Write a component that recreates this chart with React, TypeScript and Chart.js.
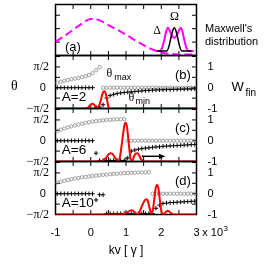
import React, { useEffect, useRef } from "react";
import { Chart, registerables } from "chart.js";

Chart.register(...registerables);

const SANS = '"Liberation Sans", Arial, sans-serif';
const SERIF = '"Liberation Serif", "Times New Roman", serif';

// ---------- data ----------
// kv grid (x 10^3) of the theta_max / theta_min samples
const KV_GRID = [
  -0.95, -0.85, -0.75, -0.65, -0.55, -0.45, -0.35, -0.25, -0.15, -0.05,
  0.05, 0.15, 0.25, 0.35, 0.45, 0.55, 0.65, 0.75, 0.85, 0.95,
  1.05, 1.15, 1.25, 1.35, 1.45, 1.55, 1.65, 1.75, 1.85, 1.95,
  2.05, 2.15, 2.25, 2.35, 2.45, 2.55, 2.65, 2.75, 2.85, 2.95,
];

// (a) Maxwell's distribution (arbitrary units)
const MAXWELL_KV = [-1, -0.75, -0.5, -0.25, 0, 0.25, 0.5, 0.75, 1, 1.25, 1.5, 1.75, 2, 2.25, 2.5, 2.75, 3];
const MAXWELL_F = [1.03, 1.45, 1.92, 2.38, 2.72, 2.62, 2.27, 1.92, 1.55, 1.15, 0.77, 0.45, 0.23, 0.12, 0.08, 0.07, 0.07];

// (a) inset: Delta (double hump, magenta) and Omega (single hump, black)
const DELTA_KV = [1.82, 1.97, 2.03, 2.09, 2.14, 2.19, 2.24, 2.31, 2.37, 2.43, 2.5, 2.55, 2.6, 2.65, 2.71, 2.77, 2.92];
const DELTA_F = [0.34, 0.34, 0.6, 1.2, 1.8, 2.07, 1.85, 1.45, 1.3, 1.45, 1.85, 2.07, 1.8, 1.2, 0.6, 0.34, 0.34];
const OMEGA_KV = [1.88, 2.16, 2.22, 2.28, 2.33, 2.37, 2.41, 2.46, 2.52, 2.58, 2.86];
const OMEGA_F = [0.34, 0.34, 0.7, 1.4, 1.9, 2.07, 1.9, 1.4, 0.7, 0.34, 0.34];

// theta in units of pi/2 ; W_fin in its own units (same scale)
// (b) A = 2
const B_THMAX = [
  0.24, 0.29, 0.33, 0.37, 0.41, 0.44, 0.47, 0.51, 0.55, 0.61,
  0.7, 0.84, 0.99, 0, 0, 0, 0, 0, 0, 0,
  0, 0, 0, 0, 0, 0, 0, 0, 0, 0,
  0, 0, 0, 0, 0, 0, 0, 0, 0, 0,
];
const B_THMIN = [
  0, 0, 0, 0, 0, 0, 0, 0, 0, 0,
  0, -0.93, -0.93, -0.82, -0.5, -0.38, -0.32, -0.28, -0.25, -0.23,
  -0.21, -0.2, -0.18, -0.17, -0.15, -0.14, -0.13, -0.12, -0.11, -0.1,
  -0.1, -0.09, -0.09, -0.08, -0.08, -0.07, -0.07, -0.06, -0.06, -0.05,
];
const B_W_KV = [-1, -0.15, -0.08, -0.02, 0.04, 0.1, 0.16, 0.2, 0.25, 0.3, 0.35, 0.39, 0.43, 0.47, 0.51, 0.56, 3];
const B_W = [-1, -1, -0.96, -0.85, -0.77, -0.82, -0.95, -0.96, -0.8, -0.5, -0.22, -0.17, -0.3, -0.65, -0.95, -1, -1];

// (c) A = 6
const C_THMAX = [
  0.47, 0.53, 0.59, 0.64, 0.69, 0.74, 0.78, 0.82, 0.86, 0.89,
  0.92, 0.94, 0.96, 0.98, 1.0, 1.01, 1.02, 1.03, 1.03, 1.04,
  0, 0, 0, 0, 0, 0, 0, 0, 0, 0,
  0, 0, 0, 0, 0, 0, 0, 0, 0, 0,
];
const C_THMIN = [
  0, 0, 0, 0, 0, 0, 0, 0, 0, 0,
  0, -0.6, -0.95, -0.95, -0.95, -0.95, -0.95, -0.95, -0.95, -0.95,
  -0.83, -0.5, -0.45, -0.41, -0.38, -0.36, -0.34, -0.32, -0.3, -0.29,
  -0.27, -0.26, -0.25, -0.24, -0.23, -0.22, -0.21, -0.2, -0.19, -0.18,
];
const C_W_KV = [-1, 0.27, 0.35, 0.45, 0.52, 0.57, 0.63, 0.7, 0.77, 0.82, 0.87, 0.92, 0.96, 0.99, 1.02, 1.06, 1.1, 1.14, 1.18, 1.23, 1.28, 1.32, 1.37, 1.43, 1.49, 1.6, 3];
const C_W = [-1, -1, -0.95, -0.78, -0.63, -0.6, -0.66, -0.85, -0.98, -0.85, -0.3, 0.35, 0.78, 0.86, 0.75, 0.2, -0.5, -0.92, -0.95, -0.75, -0.62, -0.6, -0.7, -0.9, -0.98, -1, -1];

// (d) A = 10
const D_THMAX = [
  0.54, 0.58, 0.62, 0.66, 0.7, 0.73, 0.76, 0.79, 0.81, 0.83,
  0.85, 0.87, 0.89, 0.91, 0.92, 0.94, 0.95, 0.96, 0.98, 0.99,
  1.0, 1.01, 1.01, 1.02, 1.02, 1.03, 1.03, 0, 0, 0,
  0, 0, 0, 0, 0, 0, 0, 0, 0, 0,
];
const D_THMIN = [
  0, 0, 0, 0, 0, 0, 0, 0, 0, 0,
  0, -0.3, -0.05, -0.05, -0.96, -0.96, -0.96, -0.96, -0.96, -0.96,
  -0.96, -0.96, -0.96, -0.96, -0.96, -0.96, -0.96, -0.96, -0.7, -0.55,
  -0.47, -0.45, -0.43, -0.42, -0.41, -0.4, -0.39, -0.38, -0.37, -0.36,
];
const D_W_KV = [-1, 0.88, 0.96, 1.05, 1.12, 1.16, 1.21, 1.27, 1.32, 1.38, 1.45, 1.52, 1.57, 1.62, 1.67, 1.72, 1.76, 1.8, 1.84, 1.88, 1.92, 1.96, 2.0, 2.05, 2.1, 2.15, 2.19, 2.24, 2.31, 2.38, 3];
const D_W = [-1, -1, -0.97, -0.88, -0.81, -0.79, -0.83, -0.94, -0.97, -0.88, -0.6, -0.35, -0.27, -0.35, -0.7, -0.95, -0.8, -0.3, 0.25, 0.42, 0.25, -0.3, -0.8, -1, -0.93, -0.85, -0.82, -0.88, -0.97, -1, -1];

// tick labels
const Y_TICK_VALUES = [-1, 0, 1];
const Y_LEFT_LABELS = ["\u2212\u03c0/2", "0 ", "\u03c0/2"];
const Y_RIGHT_LABELS = ["-1", "0", "1"];
const X_TICK_VALUES = [-1, 0, 1, 2, 3];
const X_TICK_LABELS = ["-1", "0", "1", "2", "3"];
const X_TITLE = "kv [ \u03b3 ]";

// ---------- helpers ----------
const pts = (xs: number[], ys: number[]) => xs.map((x, i) => ({ x, y: ys[i] }));

type TextItem = {
  t: string;
  x: number;
  y: number;
  px?: boolean;
  font: string;
  align?: CanvasTextAlign;
  base?: CanvasTextBaseline;
};

type Panel = {
  top: number;
  bottom: number;
  yMin: number;
  yMax: number;
  yStep: number;
  yLabels: boolean;
  showX: boolean;
  datasets: any[];
  texts: TextItem[];
  arrow?: { x0: number; x1: number; y: number };
};

function makeFrame(p: Panel) {
  return {
    id: "frame",
    beforeDatasetsDraw(chart: any) {
      const { ctx, chartArea: a, scales } = chart;
      const xs = scales.x;
      const ys = scales.y;
      const L = 4.5;
      ctx.save();
      ctx.strokeStyle = "#000";
      ctx.lineWidth = 1;
      ctx.beginPath();
      for (const t of xs.ticks) {
        if (t.value <= xs.min || t.value >= xs.max) continue;
        const px = xs.getPixelForValue(t.value);
        ctx.moveTo(px, a.top);
        ctx.lineTo(px, a.top + L);
        ctx.moveTo(px, a.bottom);
        ctx.lineTo(px, a.bottom - L);
      }
      for (const t of ys.ticks) {
        if (t.value <= ys.min || t.value >= ys.max) continue;
        const py = ys.getPixelForValue(t.value);
        ctx.moveTo(a.left, py);
        ctx.lineTo(a.left + L, py);
        ctx.moveTo(a.right, py);
        ctx.lineTo(a.right - L, py);
      }
      ctx.stroke();
      ctx.lineWidth = 1.5;
      ctx.strokeRect(a.left, a.top, a.right - a.left, a.bottom - a.top);
      ctx.restore();
    },
    afterDraw(chart: any) {
      const { ctx, scales } = chart;
      const xs = scales.x;
      const ys = scales.y;
      ctx.save();
      ctx.fillStyle = "#000";
      for (const it of p.texts) {
        const x = it.px ? it.x : xs.getPixelForValue(it.x);
        const y = it.px ? it.y : ys.getPixelForValue(it.y);
        ctx.font = it.font;
        ctx.textAlign = it.align || "left";
        ctx.textBaseline = it.base || "alphabetic";
        ctx.fillText(it.t, x, y);
      }
      if (p.arrow) {
        const x0 = xs.getPixelForValue(p.arrow.x0);
        const x1 = xs.getPixelForValue(p.arrow.x1);
        const y = ys.getPixelForValue(p.arrow.y);
        ctx.strokeStyle = "#000";
        ctx.lineWidth = 1.5;
        ctx.beginPath();
        ctx.moveTo(x0, y);
        ctx.lineTo(x1 - 5, y);
        ctx.stroke();
        ctx.beginPath();
        ctx.moveTo(x1, y);
        ctx.lineTo(x1 - 6.5, y - 2.6);
        ctx.lineTo(x1 - 6.5, y + 2.6);
        ctx.closePath();
        ctx.fill();
      }
      ctx.restore();
    },
  };
}

function buildConfig(p: Panel): any {
  const labelFor = (labels: string[]) => (v: number) => {
    const i = Y_TICK_VALUES.indexOf(v);
    return i >= 0 ? labels[i] : "";
  };
  return {
    type: "line",
    data: { datasets: p.datasets },
    options: {
      responsive: false,
      maintainAspectRatio: false,
      animation: false,
      events: [],
      layout: { padding: { top: p.top, bottom: p.showX ? 0 : 264 - p.bottom, left: 0, right: 0 } },
      plugins: { legend: { display: false }, tooltip: { enabled: false } },
      scales: {
        x: {
          type: "linear",
          position: "bottom",
          min: -1,
          max: 3,
          grid: { display: false, drawTicks: false },
          border: { display: false },
          ticks: {
            display: p.showX,
            stepSize: 0.5,
            autoSkip: false,
            maxRotation: 0,
            padding: 12,
            color: "#000",
            font: { family: SANS, size: 11 },
            callback: (v: number) => {
              const i = X_TICK_VALUES.indexOf(v);
              return i >= 0 ? X_TICK_LABELS[i] : "";
            },
          },
          title: {
            display: p.showX,
            text: X_TITLE,
            color: "#000",
            font: { family: SANS, size: 12 },
            padding: { top: 0, bottom: 5.8 },
          },
          afterFit: (s: any) => {
            s.height = p.showX ? 264 - p.bottom : 0;
          },
        },
        y: {
          type: "linear",
          position: "left",
          min: p.yMin,
          max: p.yMax,
          grid: { display: false, drawTicks: false },
          border: { display: false },
          ticks: {
            display: p.yLabels,
            stepSize: p.yStep,
            autoSkip: false,
            includeBounds: false,
            padding: 6.5,
            color: "#000",
            font: (c: any) =>
              c.tick && c.tick.value === 0 ? { family: SANS, size: 11 } : { family: SERIF, size: 12 },
            callback: labelFor(Y_LEFT_LABELS),
          },
          afterFit: (s: any) => {
            s.width = 55.5;
          },
        },
        y2: {
          type: "linear",
          position: "right",
          min: p.yMin,
          max: p.yMax,
          grid: { display: false, drawTicks: false },
          border: { display: false },
          ticks: {
            display: p.yLabels,
            stepSize: p.yStep,
            autoSkip: false,
            includeBounds: false,
            padding: 11,
            color: "#000",
            font: { family: SANS, size: 11 },
            callback: labelFor(Y_RIGHT_LABELS),
          },
          afterFit: (s: any) => {
            s.width = 68.5;
          },
        },
      },
    },
    plugins: [makeFrame(p)],
  };
}

const redLine = (xs: number[], ys: number[]) => ({
  data: pts(xs, ys),
  borderColor: "#ff0000",
  borderWidth: 2,
  pointRadius: 0,
  cubicInterpolationMode: "monotone",
  fill: false,
});
const plusSet = (ys: number[]) => ({
  data: pts(KV_GRID, ys),
  showLine: false,
  pointStyle: "cross",
  pointRadius: 2.2,
  pointBorderWidth: 1,
  pointBorderColor: "#000",
  pointBackgroundColor: "#000",
  borderColor: "#000",
});
const circleSet = (ys: number[]) => ({
  data: pts(KV_GRID, ys),
  showLine: false,
  pointStyle: "circle",
  pointRadius: 1.7,
  pointBorderWidth: 0.8,
  pointBorderColor: "#8a8a8a",
  pointBackgroundColor: "rgba(0,0,0,0)",
  borderColor: "#8a8a8a",
});

const LBL = `13px ${SANS}`;
const ALBL = `13.5px ${SANS}`;

const PANELS: Panel[] = [
  {
    top: 4.5,
    bottom: 55.5,
    yMin: 0,
    yMax: 3.8,
    yStep: 1,
    yLabels: false,
    showX: false,
    datasets: [
      {
        data: pts(OMEGA_KV, OMEGA_F),
        borderColor: "#000",
        borderWidth: 1.5,
        pointRadius: 0,
        cubicInterpolationMode: "monotone",
      },
      {
        data: pts(DELTA_KV, DELTA_F),
        borderColor: "#ff00ff",
        borderWidth: 2,
        pointRadius: 0,
        cubicInterpolationMode: "monotone",
      },
      {
        data: pts(MAXWELL_KV, MAXWELL_F),
        borderColor: "#ff00ff",
        borderWidth: 2,
        borderDash: [8, 4],
        pointRadius: 0,
        cubicInterpolationMode: "monotone",
      },
    ],
    texts: [
      { t: "(a)", x: 65, y: 50.5, px: true, font: LBL },
      { t: "\u0394", x: 157, y: 30.5, px: true, font: `12px ${SERIF}`, align: "center", base: "middle" },
      { t: "\u03a9", x: 174.5, y: 16.5, px: true, font: `12px ${SERIF}`, align: "center", base: "middle" },
      { t: "Maxwell's", x: 205, y: 31.5, px: true, font: `11px ${SANS}` },
      { t: "distribution", x: 205, y: 44.5, px: true, font: `11px ${SANS}` },
    ],
  },
  {
    top: 55.5,
    bottom: 108.5,
    yMin: -1,
    yMax: 1.55,
    yStep: 0.5,
    yLabels: true,
    showX: false,
    datasets: [redLine(B_W_KV, B_W), plusSet(B_THMIN), circleSet(B_THMAX)],
    texts: [
      { t: "(b)", x: 2.39, y: 0.58, font: LBL, base: "middle" },
      { t: "A=2", x: -0.82, y: -0.47, font: ALBL, base: "middle" },
      { t: "\u03b8", x: 0.45, y: 0.68, font: `12px ${SERIF}`, base: "middle" },
      { t: "max", x: 0.67, y: 0.37, font: `9px ${SANS}` },
      { t: "\u03b8", x: 1.07, y: -0.51, font: `12px ${SERIF}`, base: "middle" },
      { t: "min", x: 1.27, y: -0.78, font: `9px ${SANS}` },
      { t: "\u03b8", x: 11, y: 90, px: true, font: `14px ${SERIF}` },
      { t: "W", x: 231.5, y: 91, px: true, font: `13px ${SANS}` },
      { t: "fin", x: 245.5, y: 95.5, px: true, font: `10px ${SANS}` },
    ],
  },
  {
    top: 108.5,
    bottom: 161.5,
    yMin: -1,
    yMax: 1.55,
    yStep: 0.5,
    yLabels: true,
    showX: false,
    datasets: [redLine(C_W_KV, C_W), plusSet(C_THMIN), circleSet(C_THMAX)],
    texts: [
      { t: "(c)", x: 2.39, y: 0.58, font: LBL, base: "middle" },
      { t: "A=6", x: -0.82, y: -0.47, font: ALBL, base: "middle" },
    ],
    arrow: { x0: 1.45, x1: 2.12, y: -0.75 },
  },
  {
    top: 161.5,
    bottom: 214.5,
    yMin: -1,
    yMax: 1.55,
    yStep: 0.5,
    yLabels: true,
    showX: true,
    datasets: [redLine(D_W_KV, D_W), plusSet(D_THMIN), circleSet(D_THMAX)],
    texts: [
      { t: "(d)", x: 2.39, y: 0.58, font: LBL, base: "middle" },
      { t: "A=10", x: -0.82, y: -0.47, font: ALBL, base: "middle" },
      { t: "x 10", x: 202.3, y: 233.1, px: true, font: `11px ${SANS}`, base: "middle" },
      { t: "3", x: 223.5, y: 228.3, px: true, font: `8px ${SANS}`, base: "middle" },
    ],
  },
];

function PanelChart({ panel }: { panel: Panel }) {
  const ref = useRef<HTMLCanvasElement>(null);
  useEffect(() => {
    if (!ref.current) return;
    const chart = new Chart(ref.current, buildConfig(panel));
    return () => chart.destroy();
  }, [panel]);
  return (
    <canvas
      ref={ref}
      width={265}
      height={264}
      style={{ position: "absolute", left: 0, top: 0, width: 265, height: 264 }}
    />
  );
}

export default function App() {
  return (
    <div style={{ position: "absolute", left: 0, top: 0, width: 265, height: 264, background: "#fff" }}>
      {PANELS.map((p, i) => (
        <PanelChart key={i} panel={p} />
      ))}
    </div>
  );
}
